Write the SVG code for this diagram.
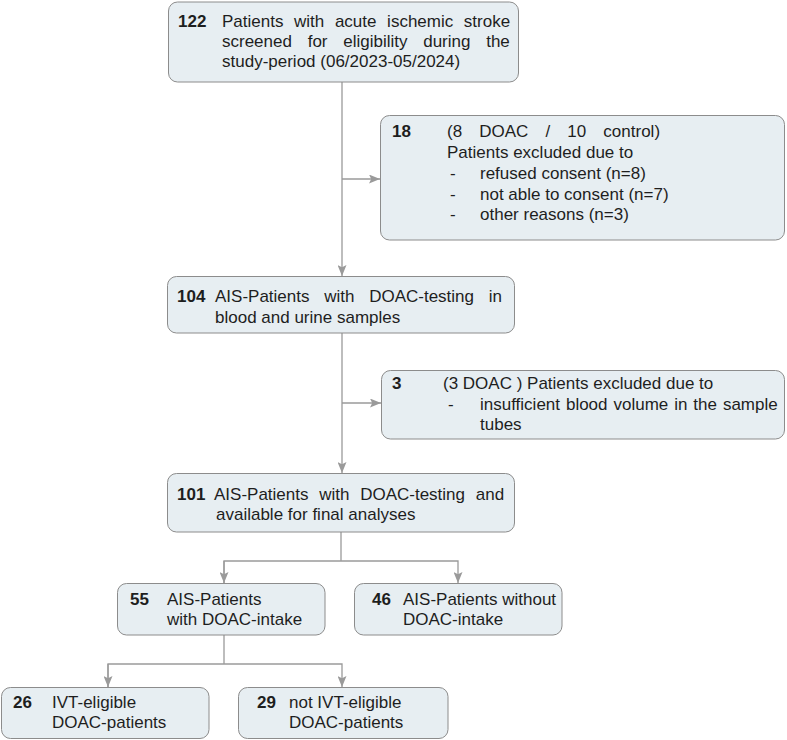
<svg xmlns="http://www.w3.org/2000/svg" width="787" height="740" viewBox="0 0 787 740">
  <style>
    .box { fill: #e7eef2; stroke: #8c8c8c; stroke-width: 1; }
    text { font-family: "Liberation Sans", Arial, sans-serif; font-size: 17px; fill: #1e1e1e; }
    .n { font-weight: bold; }
    .wire { fill: none; stroke: #9a9a9a; stroke-width: 1.3; }
  </style>
  <defs>
    <marker id="arrow" markerUnits="userSpaceOnUse" viewBox="0 0 11 9" refX="11" refY="4.5" markerWidth="11" markerHeight="9" orient="auto">
      <path d="M0,0 L11,4.5 L0,9 L2.2,4.5 z" fill="#9a9a9a"/>
    </marker>
  </defs>

  <!-- connectors -->
  <g id="connectors">
    <path class="wire" d="M342,82 V276" marker-end="url(#arrow)"/>
    <path class="wire" d="M342,179 H380" marker-end="url(#arrow)"/>
    <path class="wire" d="M342,333 V473" marker-end="url(#arrow)"/>
    <path class="wire" d="M342,403 H381" marker-end="url(#arrow)"/>
    <path class="wire" d="M341,532 V561"/>
    <path class="wire" d="M224,583 V561 H458 V583" marker-end="url(#arrow)"/>
    <path class="wire" d="M224,561 V583" marker-end="url(#arrow)"/>
    <path class="wire" d="M224,635 V664"/>
    <path class="wire" d="M108,687 V664 H342 V687" marker-end="url(#arrow)"/>
    <path class="wire" d="M108,664 V687" marker-end="url(#arrow)"/>
  </g>

  <!-- screened -->
  <g id="screened">
    <rect class="box" x="168.5" y="2" width="350" height="80" rx="9"/>
    <text class="n" x="178" y="26.5">122</text>
    <text x="222" y="26.5" word-spacing="5.9">Patients with acute ischemic stroke</text>
    <text x="222" y="46.5" word-spacing="11">screened for eligibility during the</text>
    <text x="222" y="66.5">study-period (06/2023-05/2024)</text>
  </g>

  <!-- excluded before testing -->
  <g id="excluded-consent">
    <rect class="box" x="380.5" y="115.5" width="404" height="124.5" rx="9"/>
    <text class="n" x="392" y="137">18</text>
    <text x="447" y="137" word-spacing="12.4">(8 DOAC / 10 control)</text>
    <text x="447" y="158">Patients excluded due to</text>
    <text x="450" y="179">-</text>
    <text x="480" y="179">refused consent (n=8)</text>
    <text x="450" y="199.5">-</text>
    <text x="480" y="199.5">not able to consent (n=7)</text>
    <text x="450" y="220">-</text>
    <text x="480" y="220">other reasons (n=3)</text>
  </g>

  <!-- tested -->
  <g id="tested">
    <rect class="box" x="167.5" y="276.5" width="347" height="56.5" rx="9"/>
    <text class="n" x="177" y="302">104</text>
    <text x="215" y="302" word-spacing="10">AIS-Patients with DOAC-testing in</text>
    <text x="215" y="322.5">blood and urine samples</text>
  </g>

  <!-- excluded after testing -->
  <g id="excluded-volume">
    <rect class="box" x="381.5" y="370.5" width="403" height="68.5" rx="9"/>
    <text class="n" x="392" y="389">3</text>
    <text x="443" y="389">(3 DOAC ) Patients excluded due to</text>
    <text x="448" y="409.5">-</text>
    <text x="480" y="409.5" word-spacing="1.2">insufficient blood volume in the sample</text>
    <text x="480" y="430">tubes</text>
  </g>

  <!-- analysed -->
  <g id="analysed">
    <rect class="box" x="167.5" y="473.5" width="347" height="58.5" rx="9"/>
    <text class="n" x="177" y="499.5">101</text>
    <text x="214" y="499.5" word-spacing="6">AIS-Patients with DOAC-testing and</text>
    <text x="216" y="519.5">available for final analyses</text>
  </g>

  <!-- with DOAC -->
  <g id="doac">
    <rect class="box" x="117.5" y="583.5" width="207.5" height="51.5" rx="9"/>
    <text class="n" x="130" y="604.5">55</text>
    <text x="167" y="604.5">AIS-Patients</text>
    <text x="167" y="624.5">with DOAC-intake</text>
  </g>

  <!-- without DOAC -->
  <g id="no-doac">
    <rect class="box" x="354.5" y="583.5" width="207.5" height="51.5" rx="9"/>
    <text class="n" x="372" y="604.5">46</text>
    <text x="403" y="604.5">AIS-Patients without</text>
    <text x="403" y="624.5">DOAC-intake</text>
  </g>

  <!-- IVT-eligible -->
  <g id="ivt-eligible">
    <rect class="box" x="1.5" y="687.5" width="207.5" height="51" rx="9"/>
    <text class="n" x="13" y="708">26</text>
    <text x="52" y="708">IVT-eligible</text>
    <text x="52" y="728">DOAC-patients</text>
  </g>

  <!-- not IVT-eligible -->
  <g id="not-ivt-eligible">
    <rect class="box" x="238.5" y="687.5" width="209.5" height="51" rx="9"/>
    <text class="n" x="257" y="708">29</text>
    <text x="289" y="708">not IVT-eligible</text>
    <text x="289" y="728">DOAC-patients</text>
  </g>
</svg>
